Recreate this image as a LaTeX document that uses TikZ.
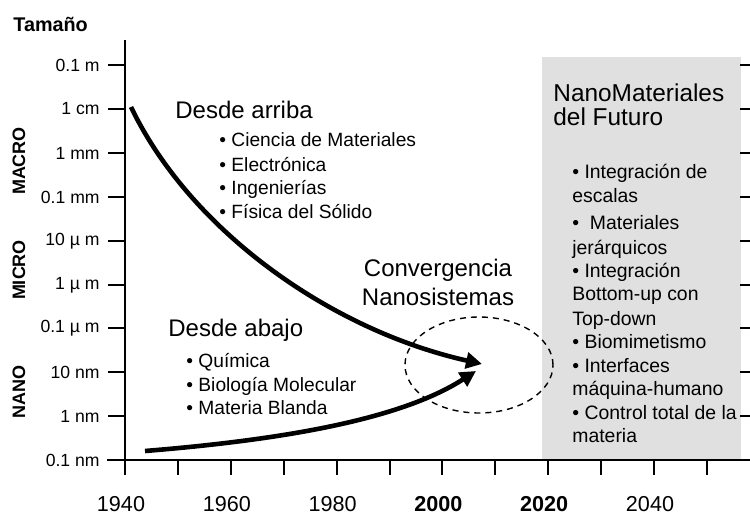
\documentclass[tikz,border=0pt]{standalone}
\usepackage{fontspec}
\setmainfont{Liberation Sans}
\usetikzlibrary{arrows.meta,positioning,calc}
\definecolor{futurezone}{RGB}{224,224,224}

\tikzset{
  axisline/.style={line width=1pt},
  ticklab/.style={left, inner sep=0pt, font=\fontsize{8.8}{10}\selectfont},
  yearlab/.style={inner sep=0pt, font=\fontsize{10.8}{12}\selectfont},
  zonelab/.style={rotate=90, inner sep=0pt, font=\fontsize{9}{10}\selectfont\bfseries},
  headlab/.style={right, inner sep=0pt, font=\fontsize{12}{14}\selectfont},
  itemlab/.style={anchor=base west, inner sep=0pt, font=\fontsize{9.6}{11}\selectfont},
  futitem/.style={anchor=base west, inner sep=0pt, font=\fontsize{9.7}{12}\selectfont},
  trend/.style={line width=2.3pt, -{Triangle[length=8pt,width=8pt]}},
}

\begin{document}
\begin{tikzpicture}[x=0.5pt, y=-0.5pt]
    \useasboundingbox (0,0) rectangle (750,513);

    % Future materials zone (grey band)
    \fill[futurezone] (542,57) rectangle (741,460);

    % Axes
    \draw[axisline] (125,40) -- (125,475);
    \draw[axisline] (107,460) -- (750,460);

    % Size scale: ticks left and right
    \foreach \y/\lab [count=\i] in {65/0.1 m, 109/1 cm, 153/1 mm, 197/0.1 mm, 241/10 µ m,
                                   285/1 µ m, 328/0.1 µ m, 372/10 nm, 416/1 nm, 460/0.1 nm} {
        \draw[axisline] (108,\y) -- (125,\y);
        \node[ticklab] (size\i) at (100,\y) {\lab};
    }
    \foreach \y in {65,109,153,197,241,285,328,372,416} {
        \draw[axisline] (740,\y) -- (750,\y);
    }

    % Time scale: one tick every 10 years
    \foreach \i in {0,...,11} {
        \draw[axisline] (125+52.9*\i,460) -- (125+52.9*\i,475);
    }
    \foreach \i/\lab in {0/1940, 2/1960, 4/1980, 6/\textbf{2000}, 8/\textbf{2020}, 10/2040} {
        \node[yearlab] (year\i) at (121+52.9*\i,504) {\lab};
    }

    % Axis titles
    \node[inner sep=0pt, anchor=west, font=\fontsize{9.9}{11}\selectfont\bfseries] (tamano) at (13,24) {Tamaño};
    \node[zonelab] (macro) at (19,161) {MACRO};
    \node[zonelab] (micro) at (19,270) {MICRO};
    \node[zonelab] (nano) at (19,392) {NANO};

    % Top-down approach
    \node[headlab] (arriba) at (175,110) {Desde arriba};
    \foreach \y/\txt [count=\i] in {140/Ciencia de Materiales, 165/Electrónica, 188/Ingenierías, 212/Física del Sólido} {
        \node[itemlab] (arr\i) at (219,\y+7) {• \txt};
    }

    % Bottom-up approach
    \node[headlab] (abajo) at (168,330) {Desde abajo};
    \foreach \y/\txt [count=\i] in {361/Química, 385/Biología Molecular, 408/Materia Blanda} {
        \node[itemlab] (aba\i) at (186,\y+7) {• \txt};
    }

    % Convergence
    \node[inner sep=0pt, align=center, font=\fontsize{12}{14.5}\selectfont] (conv) at (438,282) {Convergencia\\Nanosistemas};
    \coordinate (topstart) at (131,107);
    \coordinate (topend) at (482,364);
    \coordinate (botstart) at (145,451);
    \coordinate (botend) at (476,371);
    \draw[trend] (topstart) .. controls (190,230) and (330,330) .. (topend);
    \draw[trend] (botstart) .. controls (280,440) and (400,420) .. (botend);
    \draw[line width=0.7pt, dash pattern=on 3pt off 2.5pt] (479,365) ellipse [x radius=37pt, y radius=24pt];

    % Future nanomaterials
    \node[headlab, align=left, font=\fontsize{12.2}{12}\selectfont] (futhead) at (553,105) {NanoMateriales\\del Futuro};
    \foreach \y/\txt [count=\i] in {173/• Integración de, 197/escalas, 224/•\ \ Materiales, 249/jerárquicos,
                                   272/• Integración, 295/Bottom-up con, 320/Top-down, 343/• Biomimetismo,
                                   366/• Interfaces, 389/máquina-humano, 413/• Control total de la, 436/materia} {
        \node[futitem] (fut\i) at (572,\y+6) {\txt};
    }

\end{tikzpicture}
\end{document}
